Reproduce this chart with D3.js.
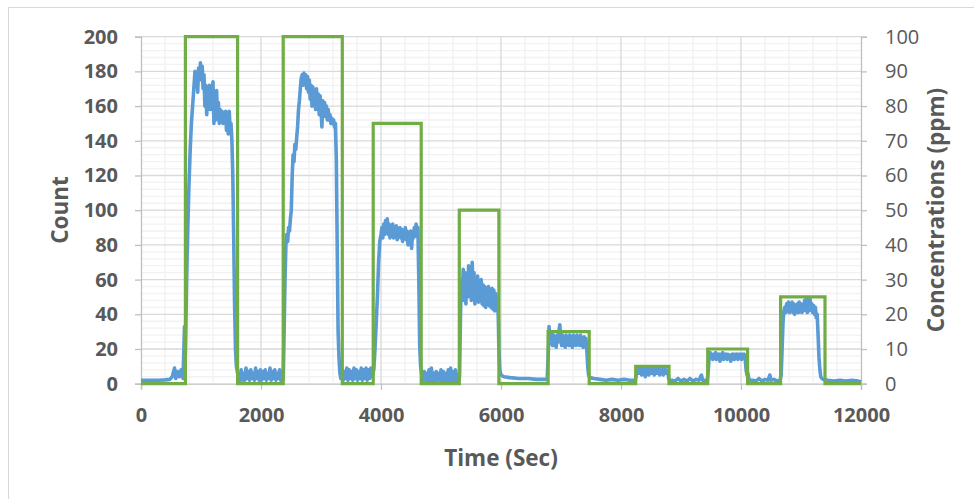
<!DOCTYPE html>
<html>
<head>
<meta charset="utf-8">
<script src="https://cdn.jsdelivr.net/npm/d3@7"></script>
<style>
  html, body { margin: 0; padding: 0; background: #fff; }
  svg { display: block; }
  text { font-family: "Open Sans", "Lato", sans-serif; fill: #595959; }
</style>
</head>
<body>
<svg id="chart" width="974" height="499"></svg>
<script>
// ---------- DATA ----------
const xTicks = [0, 2000, 4000, 6000, 8000, 10000, 12000];
const countTicks = [0, 20, 40, 60, 80, 100, 120, 140, 160, 180, 200];
const concTicks = [0, 10, 20, 30, 40, 50, 60, 70, 80, 90, 100];

const xTitle = "Time (Sec)";
const leftTitle = "Count";
const rightTitle = "Concentrations (ppm)";

// Gas concentration steps (ppm): time at which each level starts
const concTimes  = [0, 740, 1610, 2370, 3355, 3870, 4670, 5305, 5965, 6785, 7470, 8245, 8800, 9445, 10110, 10660, 11400, 12000];
const concValues = [0, 100, 0,    100,  0,    75,   0,    50,   0,    15,   0,    5,    0,    10,   0,     25,    0,     0];

// Sensor count readings: [time (s), count]
const countSeries = [
[0,2],[100,2],[200,2],[300,2],[400,2.2],[480,2.5],[520,4],[560,9],[580,3],[610,7],[640,4],[670,8],[700,3],[715,20],[725,33],[735,10],[745,25],
[760,60],[780,90],[800,115],[820,135],[840,150],[860,160],[880,170],[900,180],[915,172],[930,178],[945,168],[960,182],[975,175],[990,185],
[1005,176],[1020,183],[1035,170],[1050,178],[1065,160],[1080,172],[1095,155],[1110,168],[1125,162],[1140,172],[1155,158],[1170,170],[1185,165],
[1200,174],[1215,150],[1230,166],[1245,152],[1260,169],[1275,153],[1290,162],[1305,150],[1320,158],[1335,152],[1350,157],[1365,150],[1380,156],
[1395,151],[1410,157],[1425,146],[1440,155],[1455,144],[1470,157],[1485,148],[1500,150],[1515,140],[1530,120],[1545,85],[1560,45],[1575,20],
[1590,10],[1610,6],[1630,3],
[1650,2],[1670,8],[1690,2],[1710,6],[1730,2],[1750,9],[1770,3],[1790,7],[1810,2],[1830,8],[1850,3],[1870,6],[1890,2],[1910,9],[1930,3],[1950,7],
[1970,2],[1990,8],[2010,2],[2030,7],[2050,3],[2070,8],[2090,2],[2110,6],[2130,3],[2150,9],[2170,2],[2190,7],[2210,3],[2230,8],[2250,2],[2270,6],
[2290,3],[2310,8],[2330,2],[2350,5],[2370,3],
[2385,30],[2400,60],[2415,80],[2430,86],[2445,82],[2460,90],[2475,88],[2490,95],[2505,100],[2520,120],[2535,132],[2550,128],[2565,138],[2580,135],
[2595,142],[2610,148],[2625,158],[2640,163],[2655,170],[2670,176],[2685,178],[2700,172],[2715,179],[2730,174],[2745,178],[2760,170],[2775,177],
[2790,168],[2805,175],[2820,164],[2835,172],[2850,160],[2865,171],[2880,163],[2895,168],[2910,158],[2925,170],[2940,160],[2955,167],[2970,155],
[2985,166],[3000,158],[3015,148],[3030,163],[3045,155],[3060,162],[3075,154],[3090,160],[3105,152],[3120,158],[3135,152],[3150,155],[3165,150],
[3180,153],[3195,150],[3210,152],[3225,148],[3240,150],[3255,130],[3270,80],[3285,30],[3300,15],[3315,6],[3330,3],
[3350,8],[3370,2],[3390,7],[3410,3],[3430,9],[3450,2],[3470,8],[3490,3],[3510,7],[3530,2],[3550,9],[3570,3],[3590,8],[3610,2],[3630,7],[3650,3],
[3670,9],[3690,2],[3710,8],[3730,3],[3750,9],[3770,2],[3790,8],[3810,3],[3830,9],[3850,4],[3865,6],
[3880,8],[3900,20],[3920,35],[3940,50],[3960,70],[3980,82],[4000,86],[4015,90],[4030,84],[4045,92],[4060,86],[4075,94],[4090,88],[4105,95],
[4120,86],[4135,92],[4150,84],[4165,90],[4180,86],[4195,92],[4210,84],[4225,90],[4240,85],[4255,91],[4270,83],[4285,89],[4300,85],[4315,90],
[4330,84],[4345,89],[4360,82],[4375,88],[4390,84],[4405,90],[4420,83],[4435,88],[4450,80],[4465,87],[4480,82],[4495,88],[4510,78],[4525,86],
[4540,84],[4555,90],[4570,85],[4585,92],[4600,86],[4615,90],[4630,60],[4645,22],[4660,10],[4680,5],
[4700,2],[4720,7],[4740,2],[4760,6],[4780,1],[4800,8],[4820,2],[4840,9],[4860,2],[4880,6],[4900,1],[4920,7],[4940,2],[4960,6],[4980,2],[5000,8],
[5020,1],[5040,7],[5060,2],[5080,6],[5100,1],[5120,8],[5140,2],[5160,9],[5180,2],[5200,7],[5220,1],[5240,8],[5260,2],[5280,5],[5300,2],
[5310,5],[5325,40],[5340,60],[5355,50],[5370,66],[5385,48],[5400,64],[5415,46],[5430,62],[5445,50],[5460,68],[5475,52],[5490,66],[5505,48],
[5520,70],[5535,52],[5550,64],[5565,46],[5580,60],[5595,50],[5610,62],[5625,47],[5640,58],[5655,48],[5670,60],[5685,46],[5700,57],[5715,45],
[5730,56],[5745,44],[5760,55],[5775,46],[5790,56],[5805,45],[5820,54],[5835,44],[5850,55],[5865,43],[5880,54],[5895,42],[5910,52],[5925,44],
[5940,50],[5955,38],[5965,20],[5980,8],[6000,5],
[6050,4],[6150,3.5],[6300,3],[6450,3],[6600,2.5],[6770,2.5],
[6790,20],[6800,33],[6815,27],[6830,23],[6845,29],[6860,22],[6875,28],[6890,23],[6905,27],[6920,21],[6935,28],[6950,24],[6965,30],[6980,34],
[6995,26],[7010,22],[7025,28],[7040,23],[7055,27],[7070,21],[7085,28],[7100,23],[7115,27],[7130,22],[7145,28],[7160,24],[7175,27],[7190,21],
[7205,28],[7220,23],[7235,27],[7250,22],[7265,28],[7280,24],[7295,27],[7310,22],[7325,28],[7340,23],[7355,26],[7370,21],[7385,27],[7400,23],
[7415,26],[7430,20],[7445,10],[7460,5],[7480,3.5],
[7550,3],[7650,2.5],[7750,2],[7850,2.5],[7950,2],[8050,2.5],[8150,2],[8240,2],
[8255,5],[8270,8],[8285,6],[8300,9],[8315,6],[8330,8],[8345,5],[8360,9],[8375,6],[8390,8],[8405,4],[8420,8],[8435,6],[8450,9],[8465,5],[8480,8],
[8495,6],[8510,9],[8525,6],[8540,8],[8555,5],[8570,8],[8585,6],[8600,9],[8615,6],[8630,8],[8645,5],[8660,8],[8675,6],[8690,8],[8705,5],[8720,8],
[8735,6],[8750,8],[8765,6],[8780,7],[8795,3],[8810,2],
[8850,2],[8900,1.5],[8950,3],[9000,1.5],[9050,2.5],[9100,1.5],[9150,3],[9200,1.5],[9250,2.5],[9300,2],[9340,5],[9360,2],[9400,2],[9440,2],
[9455,8],[9470,16],[9485,18],[9500,15],[9515,17],[9530,14],[9545,17],[9560,15],[9575,18],[9590,14],[9605,17],[9620,15],[9635,17],[9650,13],
[9665,17],[9680,15],[9695,18],[9710,14],[9725,17],[9740,15],[9755,17],[9770,14],[9785,17],[9800,15],[9815,16],[9830,13],[9845,17],[9860,15],
[9875,17],[9890,14],[9905,17],[9920,15],[9935,17],[9950,14],[9965,17],[9980,15],[9995,17],[10010,14],[10025,17],[10040,15],[10055,17],[10070,14],
[10085,8],[10100,5],[10115,6],[10130,3],[10150,2],
[10200,2],[10250,1.5],[10300,3],[10350,1.5],[10400,2.5],[10450,2],[10480,5],[10500,2],[10550,2.5],[10600,1.5],[10650,2],
[10670,5],[10685,20],[10700,35],[10715,42],[10730,44],[10745,41],[10760,46],[10775,42],[10790,47],[10805,41],[10820,46],[10835,43],[10850,47],
[10865,41],[10880,46],[10895,40],[10910,45],[10925,42],[10940,46],[10955,41],[10970,47],[10985,42],[11000,46],[11015,41],[11030,45],[11045,42],
[11060,48],[11075,43],[11090,49],[11105,41],[11120,46],[11135,42],[11150,49],[11165,43],[11180,46],[11195,41],[11210,45],[11225,40],[11240,44],
[11255,38],[11270,40],[11285,28],[11300,15],[11315,8],[11330,4],[11350,3],[11370,2.5],
[11450,2],[11550,1.5],[11650,2],[11750,1.5],[11850,2],[11950,1.5],[12000,1]
];

// ---------- CHART ----------
const svg = d3.select("#chart");
const plot = { left: 141, right: 861, top: 36.7, bottom: 383.7 };

const x = d3.scaleLinear().domain([0, 12000]).range([plot.left, plot.right]);
const yL = d3.scaleLinear().domain([0, 200]).range([plot.bottom, plot.top]);
const yR = d3.scaleLinear().domain([0, 100]).range([plot.bottom, plot.top]);

// outer chart border
svg.append("rect").attr("x", 8.5).attr("y", 7.5).attr("width", 1000).attr("height", 1000)
  .attr("fill", "none").attr("stroke", "#d9d9d9").attr("stroke-width", 1);

// minor gridlines
const g = svg.append("g");
const minorX = d3.range(400, 12000, 400).filter(v => v % 2000 !== 0);
const minorY = d3.range(4, 200, 4).filter(v => v % 20 !== 0);
g.selectAll(".mx").data(minorX).join("line")
  .attr("x1", d => x(d)).attr("x2", d => x(d)).attr("y1", plot.top).attr("y2", plot.bottom)
  .attr("stroke", "#f2f2f2").attr("stroke-width", 1.3);
g.selectAll(".my").data(minorY).join("line")
  .attr("x1", plot.left).attr("x2", plot.right).attr("y1", d => yL(d)).attr("y2", d => yL(d))
  .attr("stroke", "#f2f2f2").attr("stroke-width", 1.3);
// major gridlines
g.selectAll(".Mx").data(xTicks.slice(1, -1)).join("line")
  .attr("x1", d => x(d)).attr("x2", d => x(d)).attr("y1", plot.top).attr("y2", plot.bottom)
  .attr("stroke", "#d9d9d9").attr("stroke-width", 1.3);
g.selectAll(".My").data(countTicks.slice(1)).join("line")
  .attr("x1", plot.left).attr("x2", plot.right).attr("y1", d => yL(d)).attr("y2", d => yL(d))
  .attr("stroke", "#d9d9d9").attr("stroke-width", 1.3);

// axes
function styleAxis(sel) {
  sel.select(".domain").attr("stroke", "#bfbfbf").attr("stroke-width", 1.3);
  sel.selectAll(".tick line").attr("stroke", "#bfbfbf").attr("stroke-width", 1.3);
  sel.selectAll("text").attr("fill", "#595959").attr("font-family", "'Open Sans', sans-serif");
}
const xAxis = svg.append("g").attr("transform", `translate(0,${plot.bottom})`)
  .call(d3.axisBottom(x).tickValues(xTicks).tickFormat(d3.format("d")).tickSizeOuter(0).tickSize(6).tickPadding(18));
styleAxis(xAxis);
xAxis.selectAll("text").attr("font-size", 20).attr("font-weight", 700);

const lAxis = svg.append("g").attr("transform", `translate(${plot.left},0)`)
  .call(d3.axisLeft(yL).tickValues(countTicks).tickFormat(d3.format("d")).tickSizeOuter(0).tickSize(6).tickPadding(17));
styleAxis(lAxis);
lAxis.selectAll("text").attr("font-size", 20).attr("font-weight", 700);

const rAxis = svg.append("g").attr("transform", `translate(${plot.right},0)`)
  .call(d3.axisRight(yR).tickValues(concTicks).tickFormat(d3.format("d")).tickSizeOuter(0).tickSize(6).tickPadding(18));
styleAxis(rAxis);
rAxis.selectAll("text").attr("font-size", 20).attr("font-weight", 400);

// series
const countLine = d3.line().x(d => x(d[0])).y(d => yL(d[1]));
svg.append("path").datum(countSeries).attr("d", countLine)
  .attr("fill", "none").attr("stroke", "#5b9bd5").attr("stroke-width", 3.6).attr("stroke-linejoin", "round");

const concData = concTimes.map((t, i) => [t, concValues[i]]);
const concLine = d3.line().x(d => x(d[0])).y(d => yR(d[1])).curve(d3.curveStepAfter);
svg.append("path").datum(concData).attr("d", concLine)
  .attr("fill", "none").attr("stroke", "#70ad47").attr("stroke-width", 3.2).attr("stroke-linejoin", "miter");

// titles
svg.append("text").attr("x", 501).attr("y", 466).attr("text-anchor", "middle")
  .attr("font-size", 22.5).attr("font-weight", 700).text(xTitle);
svg.append("text").attr("transform", "translate(68,210) rotate(-90)").attr("text-anchor", "middle")
  .attr("font-size", 22.5).attr("font-weight", 700).text(leftTitle);
svg.append("text").attr("transform", "translate(944,210) rotate(-90)").attr("text-anchor", "middle")
  .attr("font-size", 22.5).attr("font-weight", 700).text(rightTitle);
</script>
</body>
</html>
